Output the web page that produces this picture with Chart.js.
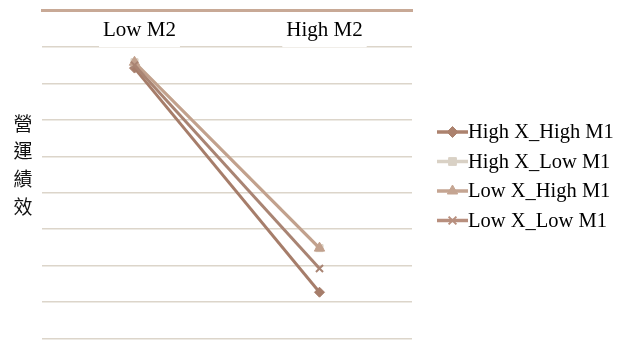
<!DOCTYPE html>
<html>
<head>
<meta charset="utf-8">
<script src="https://cdn.jsdelivr.net/npm/chart.js@4.4.1/dist/chart.umd.min.js"></script>
<style>
  html, body { margin: 0; padding: 0; background: #ffffff; }
  #wrap { width: 619px; height: 340px; position: relative; }
</style>
</head>
<body>
<div id="wrap"><canvas id="c" width="619" height="340"></canvas></div>
<script>
// Categories along the top axis
const categories = ['Low M2', 'High M2'];

// Series values (營運績效) for each group
const highXHighM1 = [7.42, 1.27];
const highXLowM1  = [7.58, 2.48];
const lowXHighM1  = [7.58, 2.48];
const lowXLowM1   = [7.50, 1.92];

const seriesNames = ['High X_High M1', 'High X_Low M1', 'Low X_High M1', 'Low X_Low M1'];
const yTitleChars = ['營', '運', '績', '效'];

const yMin = 0, yMax = 9;

const colors = ['#a67d6a', '#dcd3c6', '#c2a18d', '#a98473'];
const styles = ['rectRot', 'rect', 'triangle', 'crossRot'];
const legendColors = ['#ac826e', '#d9d1c5', '#c5a592', '#b88f7e'];

const values = [highXHighM1, highXLowM1, lowXHighM1, lowXLowM1];
const datasets = values.map((v, i) => ({
  label: seriesNames[i],
  data: v,
  borderColor: colors[i],
  backgroundColor: colors[i],
  pointStyle: styles[i],
  pointRadius: styles[i] === 'triangle' ? 6 : 5,
  pointBorderWidth: styles[i] === 'crossRot' ? 2 : 1,
  pointBorderColor: colors[i],
  pointBackgroundColor: colors[i],
  borderWidth: 3,
  tension: 0,
  order: 4 - i
}));

// Vertical stacked y-axis title
const yTitlePlugin = {
  id: 'yTitle',
  afterDraw(chart) {
    const {ctx, chartArea} = chart;
    ctx.save();
    ctx.font = '19px "Noto Sans CJK TC", "Noto Sans CJK SC", sans-serif';
    ctx.fillStyle = '#111111';
    ctx.textAlign = 'center';
    ctx.textBaseline = 'middle';
    const step = 27.7;
    const start = chartArea.top + 113;
    yTitleChars.forEach((ch, i) => ctx.fillText(ch, 23, start + i * step));
    ctx.restore();
  }
};

// Legend on the right: short line with the series marker, then the name
const sideLegendPlugin = {
  id: 'sideLegend',
  afterDraw(chart) {
    const {ctx, chartArea} = chart;
    const x0 = chartArea.right + 25;
    const lineLen = 31;
    const rowGap = 29.5;
    const firstRow = chartArea.top + 121.5;
    ctx.save();
    ctx.font = '20.5px "Liberation Serif", "Times New Roman", serif';
    ctx.textBaseline = 'middle';
    ctx.textAlign = 'left';
    chart.data.datasets.forEach((ds, i) => {
      const y = firstRow + i * rowGap;
      const c = legendColors[i];
      ctx.strokeStyle = c;
      ctx.fillStyle = c;
      ctx.lineWidth = 3.5;
      ctx.beginPath();
      ctx.moveTo(x0, y);
      ctx.lineTo(x0 + lineLen, y);
      ctx.stroke();
      ctx.lineWidth = styles[i] === 'crossRot' ? 2 : 1;
      Chart.helpers.drawPoint(ctx, {
        pointStyle: styles[i],
        radius: styles[i] === 'triangle' ? 6 : 5.5,
        rotation: 0,
        borderWidth: styles[i] === 'crossRot' ? 2 : 1
      }, x0 + lineLen / 2, y);
      ctx.fillStyle = '#000000';
      ctx.fillText(ds.label, x0 + lineLen, y + 1);
    });
    ctx.restore();
  }
};

new Chart(document.getElementById('c'), {
  type: 'line',
  data: { labels: categories, datasets },
  options: {
    responsive: false,
    animation: false,
    layout: { autoPadding: false, padding: { left: 42, right: 207, top: -4.5, bottom: 1.5 } },
    plugins: {
      tooltip: { enabled: false },
      legend: { display: false }
    },
    scales: {
      x: {
        position: 'top',
        offset: true,
        grid: { display: false, drawTicks: false },
        border: { display: true, color: '#c8a996', width: 3 },
        ticks: {
          mirror: true,
          padding: 7.5,
          labelOffset: 5,
          color: '#000000',
          font: { family: '"Liberation Serif", "Times New Roman", serif', size: 21 },
          showLabelBackdrop: true,
          backdropColor: '#ffffff',
          backdropPadding: { top: 2, bottom: 4, left: 4, right: 4 }
        }
      },
      y: {
        min: yMin,
        max: yMax,
        ticks: { display: false, stepSize: 1 },
        border: { display: false },
        grid: {
          drawTicks: false,
          lineWidth: 1.5,
          color: (c) => (c.tick && c.tick.value === yMax) ? 'rgba(0,0,0,0)' : '#dcd5ca'
        }
      }
    }
  },
  plugins: [yTitlePlugin, sideLegendPlugin]
});
</script>
</body>
</html>
